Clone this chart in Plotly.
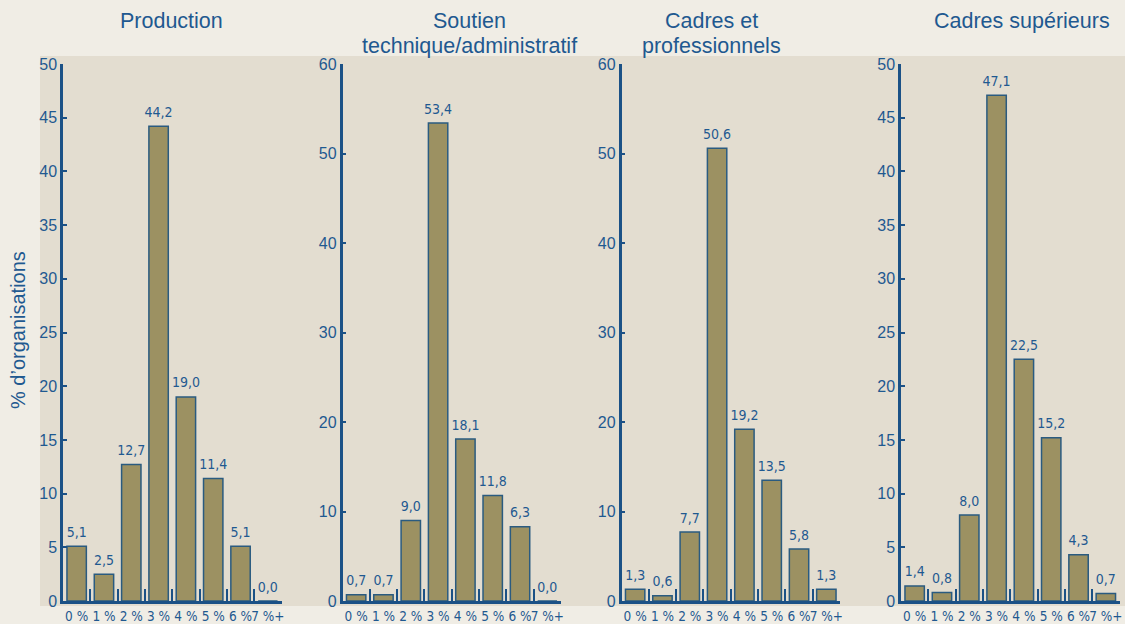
import plotly.graph_objects as go

categories = ["0 %", "1 %", "2 %", "3 %", "4 %", "5 %", "6 %", "7 %+"]
titles = [["Production"], ["Soutien", "technique/administratif"],
          ["Cadres et", "professionnels"], ["Cadres supérieurs"]]
production = [5.1, 2.5, 12.7, 44.2, 19.0, 11.4, 5.1, 0.0]
soutien = [0.7, 0.7, 9.0, 53.4, 18.1, 11.8, 8.3, 0.0]
soutien_labels = ["0,7", "0,7", "9,0", "53,4", "18,1", "11,8", "6,3", "0,0"]
cadres_pro = [1.3, 0.6, 7.7, 50.6, 19.2, 13.5, 5.8, 1.3]
cadres_sup = [1.4, 0.8, 8.0, 47.1, 22.5, 15.2, 4.3, 0.7]
y_max = [50, 60, 60, 50]
y_step = [5, 10, 10, 5]
y_title = "% d’organisations"


def fmt(v):
    return f"{v:.1f}".replace(".", ",")


series = [
    (production, [fmt(v) for v in production]),
    (soutien, soutien_labels),
    (cadres_pro, [fmt(v) for v in cadres_pro]),
    (cadres_sup, [fmt(v) for v in cadres_sup]),
]

W, H = 1125, 624
BLUE = "#1B5186"
TEXT = "#1F5990"
BAR = "#9C9162"
NARROW = "Liberation Sans Narrow, Arial Narrow, DejaVu Sans Condensed, sans-serif"
SANS = "Liberation Sans, Arial, sans-serif"

left_px = [63, 342.5, 621.5, 901]
panel_w = 218.5
y_bottom_px, y_top_px = 601, 64
title_x_px = [171, 469, 712, 1022]
title_line_y_px = [21, 46]

fig = go.Figure()
layout = dict(
    width=W, height=H, autosize=False,
    margin=dict(l=0, r=0, t=0, b=0, autoexpand=False),
    paper_bgcolor="#F0EDE5",
    plot_bgcolor="rgba(0,0,0,0)",
    showlegend=False,
    bargap=0.29,
)

for i, (vals, labels) in enumerate(series):
    sfx = "" if i == 0 else str(i + 1)
    fig.add_trace(go.Bar(
        x=categories, y=vals,
        marker=dict(color=BAR, line=dict(color="#2A5B80", width=1.5)),
        xaxis="x" + sfx, yaxis="y" + sfx, hoverinfo="skip",
    ))
    # value labels above the bars
    fig.add_trace(go.Scatter(
        x=categories, y=vals, text=labels, mode="markers+text",
        textposition="top center", cliponaxis=False,
        marker=dict(size=8, opacity=0),
        textfont=dict(family=NARROW, size=14, color=TEXT),
        xaxis="x" + sfx, yaxis="y" + sfx, hoverinfo="skip",
    ))
    x0 = left_px[i] / W
    x1 = (left_px[i] + panel_w) / W
    layout["xaxis" + sfx] = dict(
        domain=[x0, x1], anchor="y" + sfx, type="category", automargin=False,
        range=[-0.5, 7.5], tickson="boundaries", tickangle=0,
        ticks="inside", ticklen=12, tickwidth=2, tickcolor=BLUE,
        showline=True, linewidth=2.5, linecolor=BLUE,
        showgrid=False, zeroline=False, ticklabelstandoff=1,
        tickfont=dict(family=NARROW, size=13.5, color=TEXT),
    )
    layout["yaxis" + sfx] = dict(
        domain=[(H - y_bottom_px) / H, (H - y_top_px) / H],
        anchor="x" + sfx, range=[0, y_max[i]], automargin=False,
        tickvals=list(range(0, y_max[i] + 1, y_step[i])),
        ticks="inside", ticklen=4, tickwidth=2, tickcolor=BLUE,
        showline=True, linewidth=2.5, linecolor=BLUE,
        showgrid=False, zeroline=False,
        tickfont=dict(family=SANS, size=16, color=TEXT),
    )

annotations = []
for i, lines in enumerate(titles):
    for j, line in enumerate(lines):
        annotations.append(dict(
            text=line, xref="paper", yref="paper",
            x=title_x_px[i] / W, y=1 - title_line_y_px[j] / H,
            xanchor="center", yanchor="middle",
            showarrow=False, font=dict(family=SANS, size=21.5, color=TEXT),
        ))
annotations.append(dict(
    text=y_title, xref="paper", yref="paper",
    x=18 / W, y=(H - 330) / H, xanchor="center", yanchor="middle",
    textangle=-90, showarrow=False,
    font=dict(family=SANS, size=20, color=TEXT),
))
layout["annotations"] = annotations
layout["shapes"] = [dict(
    type="rect", xref="paper", yref="paper", layer="below",
    x0=40 / W, x1=1, y0=(H - 606) / H, y1=(H - 56) / H,
    fillcolor="#E3DDD0", line=dict(width=0),
)]

fig.update_layout(**layout)
fig.write_html(
    "out.html",
    config={"displayModeBar": False},
    post_script="document.body.style.margin='0';document.body.style.overflow='hidden';",
)
